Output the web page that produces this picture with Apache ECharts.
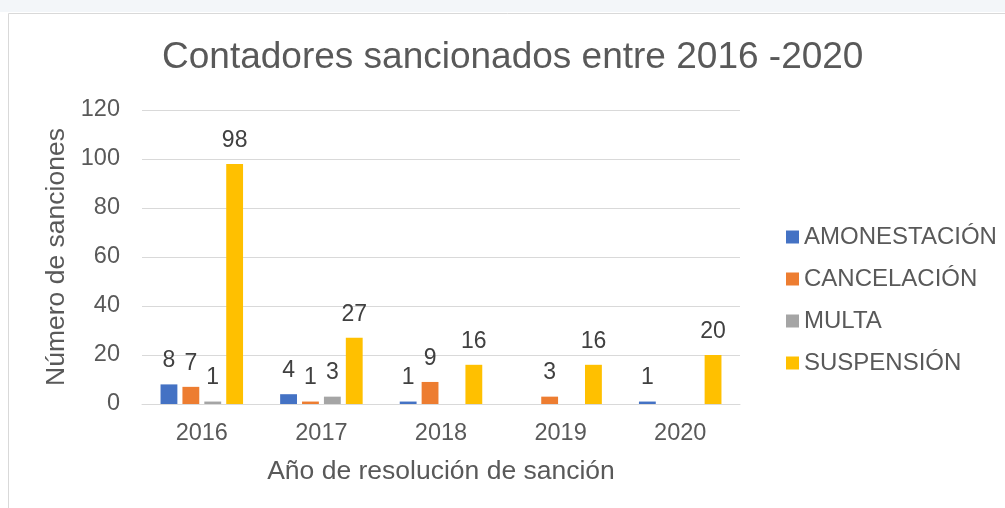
<!DOCTYPE html>
<html>
<head>
    <meta charset="utf-8">
    <title>Contadores sancionados</title>
    <script src="https://cdn.jsdelivr.net/npm/echarts@6/dist/echarts.min.js"></script>
    <style>
        html, body { margin: 0; padding: 0; background: #fff; }
        #chart { width: 1005px; height: 508px; }
    </style>
</head>
<body>
<div id="chart"></div>
<script>
    // datos
    var years = ['2016', '2017', '2018', '2019', '2020'];
    var amonestacion = [8, 4, 1, null, 1];
    var cancelacion = [7, 1, 9, 3, null];
    var multa = [1, 3, null, null, null];
    var suspension = [98, 27, 16, 16, 20];
    var seriesNames = ['AMONESTACIÓN', 'CANCELACIÓN', 'MULTA', 'SUSPENSIÓN'];
    var colors = ['#4472C4', '#ED7D31', '#A5A5A5', '#FFC000'];

    var font = '"Liberation Sans", Arial, sans-serif';
    var myChart = echarts.init(document.getElementById('chart'));

    function makeSeries(name, data, color) {
        return {
            name: name,
            type: 'bar',
            data: data,
            barGap: '30%',
            barCategoryGap: '31%',
            itemStyle: { color: color },
            label: {
                show: true,
                position: 'top',
                distance: 12,
                color: '#404040',
                fontSize: 23,
                fontFamily: font
            }
        };
    }

    var option = {
        animation: false,
        backgroundColor: '#fff',
        textStyle: { fontFamily: font },
        title: {
            text: 'Contadores sancionados entre 2016 -2020',
            left: 157,
            top: 34,
            textStyle: { color: '#595959', fontSize: 37, fontWeight: 'normal', fontFamily: font }
        },
        legend: {
            orient: 'vertical',
            left: 781,
            top: 220,
            itemWidth: 13,
            itemHeight: 13,
            itemGap: 18,
            icon: 'rect',
            textStyle: { color: '#595959', fontSize: 24, fontFamily: font },
            data: seriesNames
        },
        graphic: [
            { type: 'rect', shape: { x: 0, y: 0, width: 1005, height: 12 }, style: { fill: '#f3f6f9' }, silent: true },
            { type: 'rect', shape: { x: 8.5, y: 13.5, width: 1010, height: 510 }, style: { fill: 'none', stroke: '#d9d9d9', lineWidth: 1 }, silent: true }
        ],
        grid: { left: 142, right: 265, top: 110, bottom: 104, containLabel: false },
        xAxis: {
            type: 'category',
            data: years,
            axisLine: { lineStyle: { color: '#d9d9d9', width: 1 } },
            axisTick: { show: false },
            axisLabel: { color: '#595959', fontSize: 23.5, margin: 18, fontFamily: font },
            name: 'Año de resolución de sanción',
            nameLocation: 'middle',
            nameGap: 54,
            nameTextStyle: { color: '#595959', fontSize: 26.5, fontFamily: font }
        },
        yAxis: {
            type: 'value',
            min: 0,
            max: 120,
            interval: 20,
            axisLine: { show: false },
            axisTick: { show: false },
            splitLine: { lineStyle: { color: '#d9d9d9', width: 1 } },
            axisLabel: { color: '#595959', fontSize: 23.5, margin: 22, fontFamily: font },
            name: 'Número de sanciones',
            nameLocation: 'middle',
            nameGap: 70,
            nameTextStyle: { color: '#595959', fontSize: 26.5, fontFamily: font }
        },
        series: [
            makeSeries(seriesNames[0], amonestacion, colors[0]),
            makeSeries(seriesNames[1], cancelacion, colors[1]),
            makeSeries(seriesNames[2], multa, colors[2]),
            makeSeries(seriesNames[3], suspension, colors[3])
        ]
    };
    myChart.setOption(option);
</script>
</body>
</html>
